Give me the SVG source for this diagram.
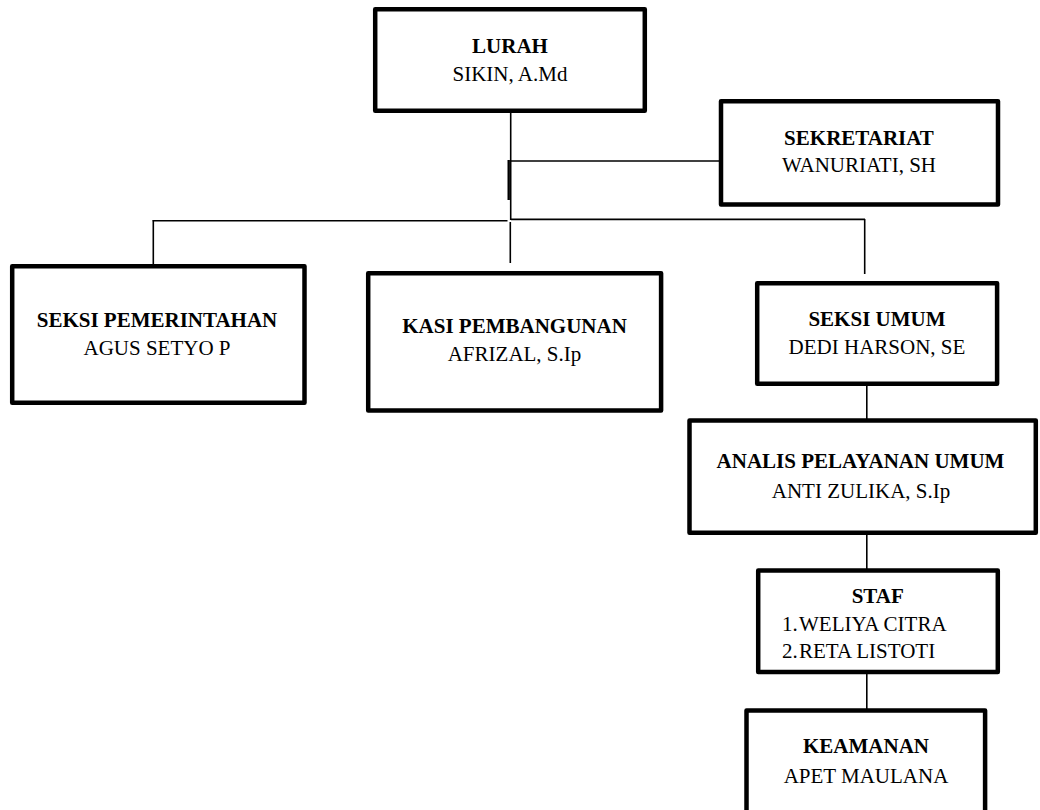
<svg xmlns="http://www.w3.org/2000/svg" width="1040" height="810" viewBox="0 0 1040 810">
<style>
.box{fill:#fff;stroke:#000;stroke-width:4.5;stroke-linejoin:round}
.ln{stroke:#000;stroke-width:1.6;fill:none}
.t{font-size:21px;fill:#000;text-anchor:middle}
.b{font-weight:bold}
.s{text-anchor:start}
</style>
<rect width="1040" height="810" fill="#fff"/>
<g id="connectors">
<line class="ln" x1="510.7" y1="112" x2="510.7" y2="220"/>
<line class="ln" x1="510" y1="161" x2="720" y2="161"/>
<line x1="508.7" y1="160" x2="508.7" y2="200" stroke="#000" stroke-width="2.4"/>
<line class="ln" x1="152.7" y1="220.7" x2="507.5" y2="220.7"/>
<line class="ln" x1="511" y1="219.4" x2="865" y2="219.4"/>
<line class="ln" x1="153.3" y1="220" x2="153.3" y2="265"/>
<line class="ln" x1="510.3" y1="222" x2="510.3" y2="263"/>
<line class="ln" x1="864.7" y1="219" x2="864.7" y2="274"/>
<line class="ln" x1="866.8" y1="385" x2="866.8" y2="420"/>
<line class="ln" x1="866.8" y1="533" x2="866.8" y2="569"/>
<line class="ln" x1="866.8" y1="673" x2="866.8" y2="710"/>
</g>
<g font-family="Liberation Serif, DejaVu Serif, serif">
<g id="lurah">
<rect class="box" x="375.2" y="9.2" width="269.6" height="101.6"/>
<text class="t b" x="510" y="53.3">LURAH</text>
<text class="t" x="510" y="81">SIKIN, A.Md</text>
</g>
<g id="sekretariat">
<rect class="box" x="721" y="101.3" width="277" height="103.3"/>
<text class="t b" x="859" y="145">SEKRETARIAT</text>
<text class="t" x="859" y="171.7">WANURIATI, SH</text>
</g>
<g id="seksi-pemerintahan">
<rect class="box" x="12.2" y="266.2" width="292.3" height="136.6"/>
<text class="t b" x="157" y="326.7">SEKSI PEMERINTAHAN</text>
<text class="t" x="157" y="355">AGUS SETYO P</text>
</g>
<g id="kasi-pembangunan">
<rect class="box" x="368.2" y="273.2" width="292.9" height="137.3"/>
<text class="t b" x="514.5" y="333.3">KASI PEMBANGUNAN</text>
<text class="t" x="514.5" y="361">AFRIZAL, S.Ip</text>
</g>
<g id="seksi-umum">
<rect class="box" x="757.2" y="283.2" width="239.9" height="100.6"/>
<text class="t b" x="877" y="326.3">SEKSI UMUM</text>
<text class="t" x="877" y="353.5">DEDI HARSON, SE</text>
</g>
<g id="analis">
<rect class="box" x="689.5" y="420.5" width="346.3" height="112.3"/>
<text class="t b" x="860.5" y="468.3">ANALIS PELAYANAN UMUM</text>
<text class="t" x="861" y="497.7">ANTI ZULIKA, S.Ip</text>
</g>
<g id="staf">
<rect class="box" x="758.2" y="570.5" width="239.6" height="101.6"/>
<text class="t b" x="877.7" y="602.7">STAF</text>
<text class="t s" x="782" y="630.7">1.</text>
<text class="t s" x="799" y="630.7">WELIYA CITRA</text>
<text class="t s" x="782" y="658.3">2.</text>
<text class="t s" x="799" y="658.3">RETA LISTOTI</text>
</g>
<g id="keamanan">
<rect class="box" x="746.5" y="710.5" width="238.6" height="120"/>
<text class="t b" x="866" y="753.3">KEAMANAN</text>
<text class="t" x="866" y="782.7">APET MAULANA</text>
</g>
</g>
</svg>
